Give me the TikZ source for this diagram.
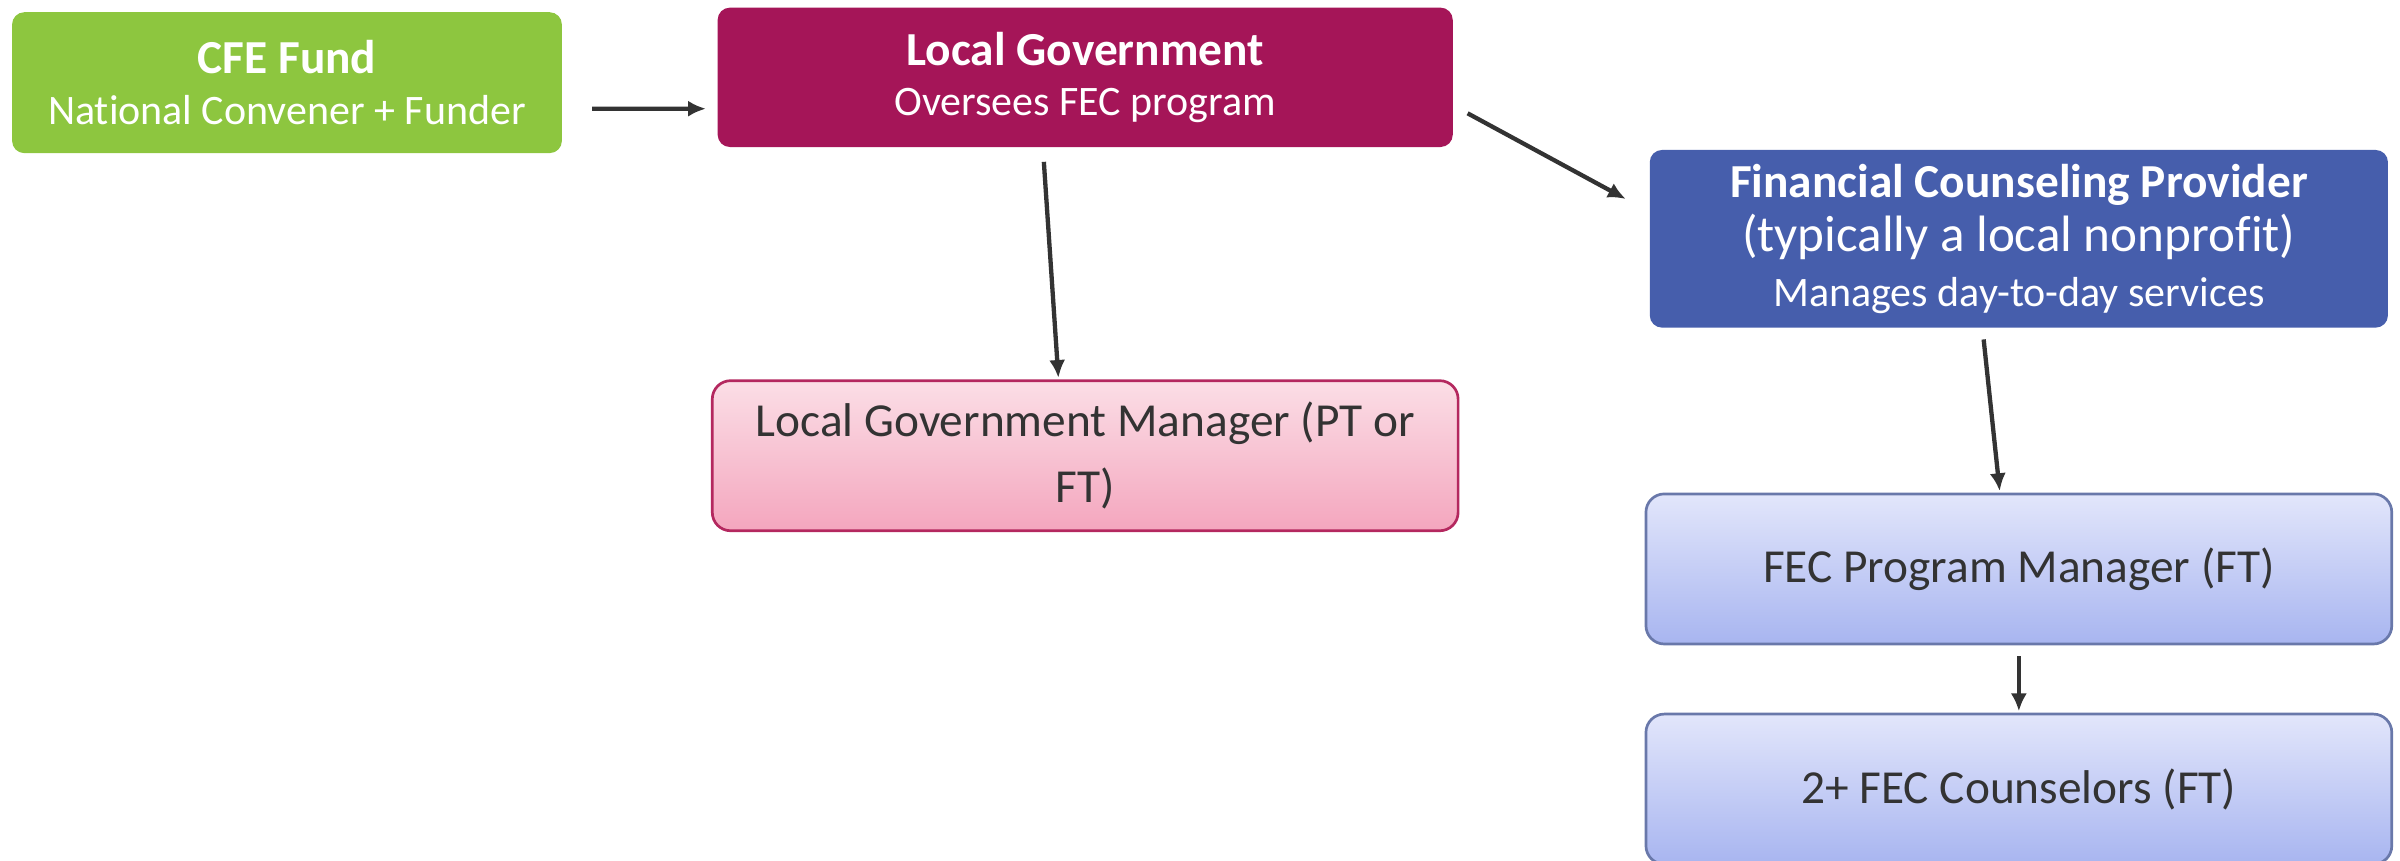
\documentclass[tikz,border=0pt]{standalone}
\usepackage{fontspec}
\setmainfont{Carlito}[Ligatures=NoCommon]
\usetikzlibrary{positioning, calc, arrows.meta}

\definecolor{fundgreen}{RGB}{141,198,63}
\definecolor{govred}{RGB}{165,21,88}
\definecolor{provblue}{RGB}{70,94,172}
\definecolor{pinktop}{RGB}{251,222,230}
\definecolor{pinkbot}{RGB}{244,166,190}
\definecolor{pinkline}{RGB}{180,40,95}
\definecolor{bluetop}{RGB}{226,230,251}
\definecolor{bluebot}{RGB}{168,181,240}
\definecolor{blueline}{RGB}{105,120,170}
\definecolor{darktext}{RGB}{51,51,51}

\begin{document}
\begin{tikzpicture}[x=0.01cm, y=-0.01cm,
    topbox/.style={rounded corners=0.08cm, align=center, text=white, inner sep=0pt,
        font=\fontsize{7.8pt}{9.4pt}\selectfont},
    staffbox/.style={rounded corners=0.12cm, align=center, text=darktext, inner sep=0pt,
        line width=0.5pt, minimum width=4.87cm, minimum height=0.98cm,
        font=\fontsize{8.8pt}{12.2pt}\selectfont},
    arr/.style={-{Latex[length=3.3pt,width=3pt]}, line width=0.8pt, draw=darktext}]
    \useasboundingbox (0,0) rectangle (1568,562.5);

    % top row
    \node (cfe) at (187.5,54) [topbox, fill=fundgreen, minimum width=3.59cm, minimum height=0.92cm]
        {{\fontsize{8.8pt}{9.4pt}\selectfont\bfseries CFE Fund}\\National Convener + Funder};
    \node (gov) at (709,50.5) [topbox, fill=govred, minimum width=4.8cm, minimum height=0.91cm]
        {{\fontsize{8.8pt}{9.4pt}\selectfont\bfseries Local Government}\\Oversees FEC program};
    \node (prov) at (1319,156) [topbox, fill=provblue, minimum width=4.82cm, minimum height=1.16cm,
        font=\fontsize{7.8pt}{10.1pt}\selectfont]
        {{\fontsize{8.8pt}{10.1pt}\selectfont\bfseries Financial Counseling Provider}\\
         {\fontsize{9.5pt}{10.1pt}\selectfont (typically a local nonprofit)}\\
         Manages day-to-day services};

    % staff boxes
    \node[below=1.51cm of gov] (gov mgr) [staffbox, draw=pinkline, top color=pinktop, bottom color=pinkbot]
        {Local Government Manager (PT or\\FT)};
    \node[below=1.07cm of prov] (prog mgr) [staffbox, draw=blueline, top color=bluetop, bottom color=bluebot]
        {FEC Program Manager (FT)};
    \node[below=0.44cm of prog mgr] (counselors) [staffbox, draw=blueline, top color=bluetop, bottom color=bluebot]
        {2+ FEC Counselors (FT)};

    % connectors
    \draw[arr] ([xshift=.19cm, yshift=-.17cm]cfe.east) -- ([xshift=-.07cm, yshift=-.205cm]gov.west);
    \draw[arr] ([xshift=-.27cm, yshift=-.09cm]gov.south) -- ([xshift=-.175cm, yshift=.01cm]gov mgr.north);
    \draw[arr] ([xshift=.09cm, yshift=-.235cm]gov.east) -- ([xshift=-.15cm, yshift=.26cm]prov.west);
    \draw[arr] ([xshift=-.23cm, yshift=-.07cm]prov.south) -- ([xshift=-.125cm, yshift=.01cm]prog mgr.north);
    \draw[arr] ([yshift=-.07cm]prog mgr.south) -- ([yshift=.01cm]counselors.north);
\end{tikzpicture}
\end{document}
